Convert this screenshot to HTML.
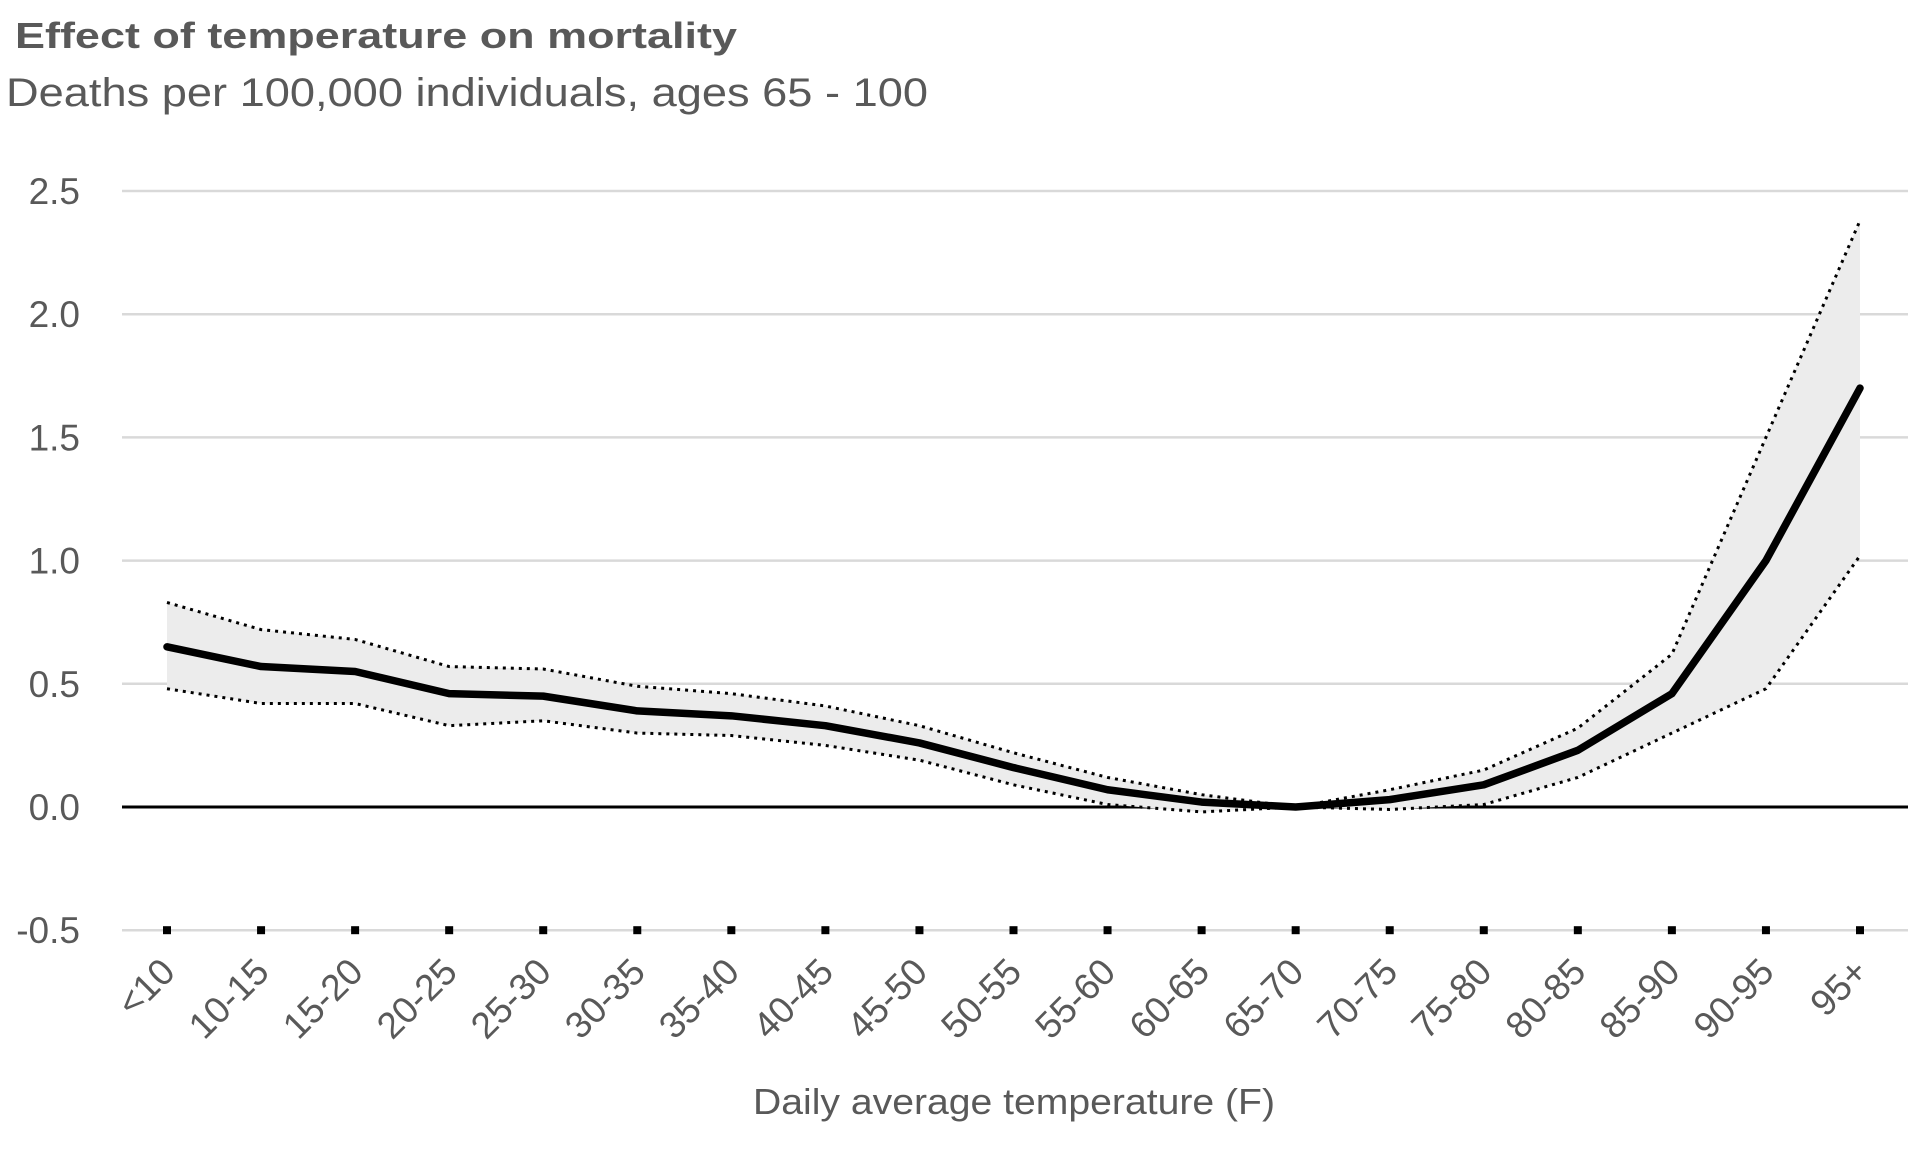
<!DOCTYPE html>
<html><head><meta charset="utf-8"><style>
html,body{margin:0;padding:0;background:#fff;width:1920px;height:1149px;overflow:hidden}
svg{display:block;font-family:"Liberation Sans",sans-serif}
</style></head><body>
<svg id="chart" width="1920" height="1149" viewBox="0 0 1920 1149" xmlns="http://www.w3.org/2000/svg">
<text x="15" y="48" font-size="36" font-weight="bold" fill="#595959" textLength="722" lengthAdjust="spacingAndGlyphs">Effect of temperature on mortality</text>
<text x="6" y="106" font-size="40" fill="#595959" textLength="922" lengthAdjust="spacingAndGlyphs">Deaths per 100,000 individuals, ages 65 - 100</text>
<g id="grid"></g><g id="band"></g><g id="lines"></g><g id="xlabels"></g><g id="ylabels"></g>
<text x="1014" y="1114" font-size="36" fill="#595959" text-anchor="middle" textLength="522" lengthAdjust="spacingAndGlyphs">Daily average temperature (F)</text>
</svg>
<script>
const categories = ["<10","10-15","15-20","20-25","25-30","30-35","35-40","40-45","45-50","50-55","55-60","60-65","65-70","70-75","75-80","80-85","85-90","90-95","95+"];
const meanValues = [0.65,0.57,0.55,0.46,0.45,0.39,0.37,0.33,0.26,0.16,0.07,0.02,0,0.03,0.09,0.23,0.46,1.0,1.70];
const upperValues = [0.83,0.72,0.68,0.57,0.56,0.49,0.46,0.41,0.33,0.22,0.12,0.05,0,0.07,0.15,0.32,0.62,1.50,2.38];
const lowerValues = [0.48,0.42,0.42,0.33,0.35,0.30,0.29,0.25,0.19,0.09,0.01,-0.02,0,-0.01,0.01,0.12,0.30,0.48,1.02];
const yTicks = [-0.5,0,0.5,1.0,1.5,2.0,2.5];
const yTickLabels = ["-0.5","0.0","0.5","1.0","1.5","2.0","2.5"];

const NS="http://www.w3.org/2000/svg";
const x0=122,x1=1908;
const xScale=i=>167+i*(1860-167)/(categories.length-1);
const yScale=v=>807-v*(807-191)/2.5;
function mk(tag,attrs,parent){const e=document.createElementNS(NS,tag);for(const k in attrs)e.setAttribute(k,attrs[k]);parent.appendChild(e);return e;}
const grid=document.getElementById('grid'),band=document.getElementById('band'),lines=document.getElementById('lines'),xl=document.getElementById('xlabels'),yl=document.getElementById('ylabels');

yTicks.forEach((t,i)=>{
  const y=yScale(t);
  const g=mk('line',{x1:x0,x2:x1,y1:y,y2:y,stroke:t===0?'#000':'#d9d9d9','stroke-width':t===0?3:2.5},grid);
  
  
  const tx=mk('text',{x:80,y:y+13,'font-size':37,fill:'#595959','text-anchor':'end'},yl);
  tx.textContent=yTickLabels[i];
  
  
});

let pts=upperValues.map((v,i)=>xScale(i)+','+yScale(v));
let lp=lowerValues.map((v,i)=>xScale(i)+','+yScale(v)).reverse();
const area=mk('polygon',{points:pts.concat(lp).join(' '),fill:'#ececec'},band);



function poly(vals,attrs,name){
  const p=mk('polyline',Object.assign({points:vals.map((v,i)=>xScale(i)+','+yScale(v)).join(' '),fill:'none'},attrs),lines);
  
  
}
poly(upperValues,{stroke:'#000','stroke-width':3,'stroke-dasharray':'3 5'},'upper-bound-line');
poly(lowerValues,{stroke:'#000','stroke-width':3,'stroke-dasharray':'3 5'},'lower-bound-line');
poly(meanValues,{stroke:'#000','stroke-width':7.5,'stroke-linejoin':'round','stroke-linecap':'round'},'mean-line');

categories.forEach((c,i)=>{
  const x=xScale(i),y=yScale(-0.5);
  const m=mk('rect',{x:x-4,y:y-4,width:8,height:8,fill:'#000'},grid);
  
  
  const t=mk('text',{x:x+10,y:974,'font-size':37,fill:'#595959','text-anchor':'end',transform:'rotate(-45 '+(x+10)+' 974)'},xl);
  t.textContent=c;
  
  
});
</script>
</body></html>
